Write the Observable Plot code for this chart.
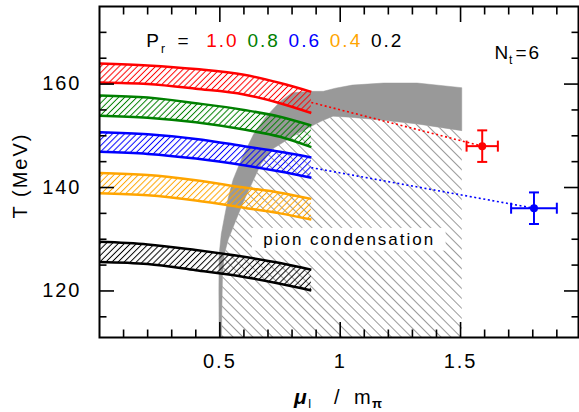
<!DOCTYPE html>
<html><head><meta charset="utf-8">
<script src="https://cdn.jsdelivr.net/npm/d3@7"></script>
<script src="https://cdn.jsdelivr.net/npm/@observablehq/plot@0.6"></script>
<style>body{margin:0;background:#fff;}</style>
</head><body><div id="chart"></div>
<script>
// ---- data ----
const bandMu = [0, 0.2, 0.4, 0.6, 0.75, 0.88];
const prLabels = ["1.0", "0.8", "0.6", "0.4", "0.2"];
const prColors = ["#ff0000", "#008000", "#0000ff", "#ffa500", "#000000"];
const upper10 = [164.0, 163.6, 162.9, 161.8, 160.2, 158.5];
const lower10 = [160.3, 160.0, 159.1, 158.0, 156.3, 154.4];
const upper08 = [157.8, 157.4, 156.3, 155.0, 153.7, 152.0];
const lower08 = [153.9, 153.5, 152.6, 151.2, 149.8, 147.8];
const upper06 = [150.7, 150.3, 149.4, 148.0, 146.9, 145.8];
const lower06 = [146.9, 146.5, 145.6, 144.3, 143.1, 141.9];
const upper04 = [142.8, 142.4, 141.4, 140.0, 139.0, 137.8];
const lower04 = [138.9, 138.5, 137.5, 136.1, 135.0, 133.8];
const upper02 = [129.5, 129.0, 127.9, 126.6, 125.4, 124.1];
const lower02 = [125.6, 125.2, 124.0, 122.7, 121.4, 120.1];

// pion condensation boundary band (outer / upper edge, then inner / lower edge)
const condUpperMu = [0.497, 0.496, 0.497, 0.506, 0.52, 0.535, 0.555, 0.59, 0.64, 0.69, 0.75, 0.80, 0.87, 0.93, 0.98, 1.05, 1.18, 1.32, 1.505];
const condUpperT  = [111, 120, 127, 131, 134.5, 138, 141.5, 145.5, 150.3, 153.6, 156.6, 158.3, 158.6, 158.6, 159.2, 159.8, 160.2, 160.2, 159.3];
const condLowerMu = [1.505, 1.32, 1.18, 1.04, 0.97, 0.92, 0.87, 0.80, 0.72, 0.67, 0.635, 0.60, 0.565, 0.535, 0.518, 0.511, 0.508, 0.507];
const condLowerT  = [151.0, 152.3, 153.0, 153.6, 153.8, 152.8, 151.6, 149.8, 147.5, 144.5, 141.0, 137.5, 133.5, 130.0, 127.0, 123.0, 116.0, 111.0];
const condLabel = "pion condensation";
const condLabelBox = {x1: 0.635, x2: 1.44, y1: 127.7, y2: 132.1};

// data points with errors (series index into prLabels)
const pointSeries = [0, 2];
const pointMu = [1.59, 1.805];
const pointMuErr = [0.065, 0.095];
const pointT = [148.0, 136.0];
const pointTErr = [3.05, 3.05];

// ticks
const xMajor = [0.5, 1, 1.5];
const xTickLabels = ["0.5", "1", "1.5"];
const xMinor = [0.1, 0.2, 0.3, 0.4, 0.6, 0.7, 0.8, 0.9, 1.1, 1.2, 1.3, 1.4, 1.6, 1.7, 1.8, 1.9];
const yMajor = [120, 140, 160];
const yTickLabels = ["120", "140", "160"];
const yMinor = [115, 125, 130, 135, 145, 150, 155, 165, 170];

// ---- build tables ----
const bandUppers = [upper10, upper08, upper06, upper04, upper02];
const bandLowers = [lower10, lower08, lower06, lower04, lower02];
const bands = prLabels.map((pr, s) => bandMu.map((mu, i) => ({mu, hi: bandUppers[s][i], lo: bandLowers[s][i]})));

const condPoly = condUpperMu.map((mu, i) => ({mu, T: condUpperT[i]}))
  .concat(condLowerMu.map((mu, i) => ({mu, T: condLowerT[i]})));
const hatchPoly = condLowerMu.map((mu, i) => ({mu, T: condLowerT[i]}))
  .concat([{mu: condLowerMu[0], T: condLowerT[condLowerT.length - 1]}]);

const points = pointSeries.map((s, i) => ({mu: pointMu[i], dmu: pointMuErr[i], T: pointT[i], dT: pointTErr[i], color: prColors[s], s}));
const last = bandMu.length - 1;
const links = points.map(p => ({x1: bandMu[last], y1: (bandUppers[p.s][last] + bandLowers[p.s][last]) / 2, x2: p.mu, y2: p.T, color: p.color}));
const capsV = points.flatMap(p => [{x: p.mu - p.dmu, y: p.T, color: p.color}, {x: p.mu + p.dmu, y: p.T, color: p.color}]);
const capsH = points.flatMap(p => [{x: p.mu, y: p.T - p.dT, color: p.color}, {x: p.mu, y: p.T + p.dT, color: p.color}]);

const vbar = {draw(ctx, size) { const r = Math.sqrt(size / Math.PI); ctx.moveTo(0, -r); ctx.lineTo(0, r); }};
const hbar = {draw(ctx, size) { const r = Math.sqrt(size / Math.PI); ctx.moveTo(-r, 0); ctx.lineTo(r, 0); }};

const FS = 20;
const bandMarks = bands.flatMap((b, s) => [
  Plot.areaY(b, {x: "mu", y1: "lo", y2: "hi", fill: `url(#hatch-${s})`, curve: "monotone-x"}),
  Plot.line(b, {x: "mu", y: "hi", stroke: prColors[s], strokeWidth: 2.5, strokeLinecap: "butt", curve: "monotone-x"}),
  Plot.line(b, {x: "mu", y: "lo", stroke: prColors[s], strokeWidth: 2.5, strokeLinecap: "butt", curve: "monotone-x"})
]);

const legendMarks = [
  Plot.text(["P"], {frameAnchor: "top-left", dx: 46.7, dy: 40.7, textAnchor: "start", lineAnchor: "bottom", fontSize: 19}),
  Plot.text(["r"], {frameAnchor: "top-left", dx: 61.5, dy: 46.5, textAnchor: "start", lineAnchor: "bottom", fontSize: 12}),
  Plot.text(["="], {frameAnchor: "top-left", dx: 78, dy: 40.7, textAnchor: "start", lineAnchor: "bottom", fontSize: 19}),
  ...prLabels.map((l, i) => Plot.text([l], {frameAnchor: "top-left", dx: 106.7 + i * 41.2, dy: 40.7, textAnchor: "start", lineAnchor: "bottom", fontSize: 19, fill: prColors[i]})),
  Plot.text(["N"], {frameAnchor: "top-right", dx: -84, dy: 52, textAnchor: "start", lineAnchor: "bottom", fontSize: 19, style: "letter-spacing:0px"}),
  Plot.text(["t"], {frameAnchor: "top-right", dx: -69.5, dy: 57, textAnchor: "start", lineAnchor: "bottom", fontSize: 12, style: "letter-spacing:0px"}),
  Plot.text(["=6"], {frameAnchor: "top-right", dx: -63, dy: 52, textAnchor: "start", lineAnchor: "bottom", fontSize: 19, style: "letter-spacing:1px"})
];

const xLabelMarks = [
  Plot.text(["μ"], {frameAnchor: "bottom", dx: -45, dy: 66, textAnchor: "start", lineAnchor: "bottom", fontSize: 21, fontWeight: "bold", fontStyle: "italic"}),
  Plot.text(["I"], {frameAnchor: "bottom", dx: -31, dy: 70, textAnchor: "start", lineAnchor: "bottom", fontSize: 12}),
  Plot.text(["/"], {frameAnchor: "bottom", dx: -5, dy: 66, textAnchor: "start", lineAnchor: "bottom", fontSize: 20}),
  Plot.text(["m"], {frameAnchor: "bottom", dx: 15, dy: 66, textAnchor: "start", lineAnchor: "bottom", fontSize: 20}),
  Plot.text(["π"], {frameAnchor: "bottom", dx: 33, dy: 70, textAnchor: "start", lineAnchor: "bottom", fontSize: 13, fontWeight: "bold"})
];

const tickStyle = {fill: "none", label: null, strokeWidth: 1.6};
const svg = Plot.plot({
  width: 579,
  height: 412,
  marginLeft: 99,
  marginRight: 1,
  marginTop: 6,
  marginBottom: 75,
  style: {fontFamily: "'Liberation Sans', Arial, sans-serif", letterSpacing: "2px", background: "white", color: "black"},
  x: {domain: [0, 1.99], label: null},
  y: {domain: [111, 175], label: null},
  color: {type: "identity"},
  marks: [
    Plot.line(hatchPoly, {x: "mu", y: "T", fill: "url(#hatch-cond)", stroke: "none", curve: "linear"}),
    Plot.rect([condLabelBox], {x1: "x1", x2: "x2", y1: "y1", y2: "y2", fill: "white"}),
    Plot.text([condLabelBox], {x: d => (d.x1 + d.x2) / 2, y: d => (d.y1 + d.y2) / 2, text: () => condLabel, fontSize: 17, lineAnchor: "middle", style: "letter-spacing:2.5px"}),
    Plot.line(condPoly, {x: "mu", y: "T", fill: "#999999", stroke: "#999999", strokeWidth: 0.5, curve: "linear"}),
    ...bandMarks,
    Plot.link(links, {x1: "x1", y1: "y1", x2: "x2", y2: "y2", stroke: "color", strokeWidth: 1.6, strokeDasharray: "2,2.6"}),
    Plot.ruleY(points, {y: "T", x1: d => d.mu - d.dmu, x2: d => d.mu + d.dmu, stroke: "color", strokeWidth: 2}),
    Plot.ruleX(points, {x: "mu", y1: d => d.T - d.dT, y2: d => d.T + d.dT, stroke: "color", strokeWidth: 2}),
    Plot.dot(capsV, {x: "x", y: "y", symbol: vbar, r: 5.5, fill: "none", stroke: "color", strokeWidth: 2}),
    Plot.dot(capsH, {x: "x", y: "y", symbol: hbar, r: 5, fill: "none", stroke: "color", strokeWidth: 2}),
    Plot.dot(points, {x: "mu", y: "T", r: 4, fill: "color", stroke: "none"}),
    Plot.frame({stroke: "black", strokeWidth: 2}),
    Plot.axisX({ticks: xMajor, tickSize: -15, ...tickStyle}),
    Plot.axisX({ticks: xMinor, tickSize: -7.5, ...tickStyle}),
    Plot.axisX({anchor: "top", ticks: xMajor, tickSize: -15, ...tickStyle}),
    Plot.axisX({anchor: "top", ticks: xMinor, tickSize: -7.5, ...tickStyle}),
    Plot.axisY({ticks: yMajor, tickSize: -15, ...tickStyle}),
    Plot.axisY({ticks: yMinor, tickSize: -7.5, ...tickStyle}),
    Plot.axisY({anchor: "right", ticks: yMajor, tickSize: -15, ...tickStyle}),
    Plot.axisY({anchor: "right", ticks: yMinor, tickSize: -7.5, ...tickStyle}),
    Plot.axisX({ticks: xMajor, tickSize: 0, tickPadding: 16, tickFormat: d => xTickLabels[xMajor.indexOf(d)], fontSize: FS, label: null}),
    Plot.axisY({ticks: yMajor, tickSize: 0, tickPadding: 18, tickFormat: d => yTickLabels[yMajor.indexOf(d)], fontSize: FS, label: null}),
    Plot.text(["T (MeV)"], {frameAnchor: "left", rotate: -90, dx: -79, dy: 3.5, fontSize: FS, textAnchor: "middle", lineAnchor: "middle"}),
    ...xLabelMarks,
    ...legendMarks
  ]
});

// hatch patterns
const defs = d3.select(svg).insert("defs", ":first-child");
function hatch(id, color, spacing, angle, width) {
  const p = defs.append("pattern").attr("id", id).attr("patternUnits", "userSpaceOnUse")
    .attr("width", spacing).attr("height", spacing).attr("patternTransform", `rotate(${angle})`);
  p.append("line").attr("x1", spacing / 2).attr("y1", -1).attr("x2", spacing / 2).attr("y2", spacing + 1)
    .attr("stroke", color).attr("stroke-width", width);
}
prColors.forEach((c, s) => hatch(`hatch-${s}`, c, 4.3, 45, 1));
hatch("hatch-cond", "#9a9a9a", 7, -45, 1);

document.getElementById("chart").appendChild(svg);
</script>
</body></html>
